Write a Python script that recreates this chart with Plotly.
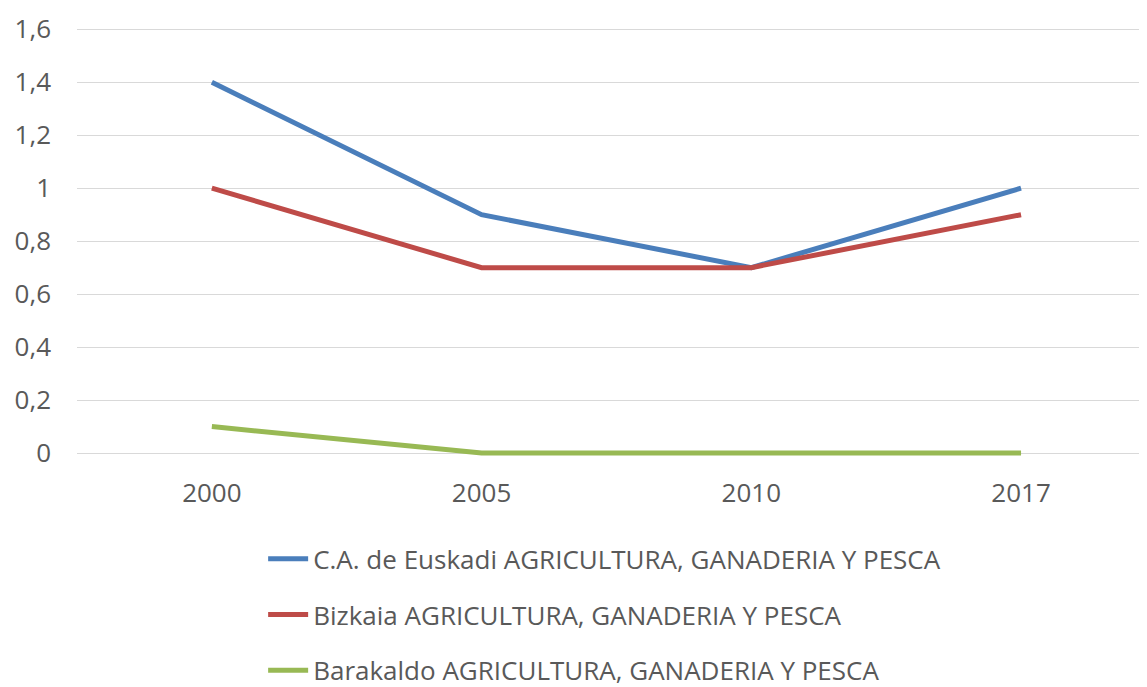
import plotly.graph_objects as go

years = ["2000", "2005", "2010", "2017"]
euskadi = [1.4, 0.9, 0.7, 1.0]
bizkaia = [1.0, 0.7, 0.7, 0.9]
barakaldo = [0.1, 0.0, 0.0, 0.0]
names = [
    "C.A. de Euskadi AGRICULTURA, GANADERIA Y PESCA",
    "Bizkaia AGRICULTURA, GANADERIA Y PESCA",
    "Barakaldo AGRICULTURA, GANADERIA Y PESCA",
]
colors = ["#4a7ebb", "#be4b48", "#98b954"]
y_ticks = [0, 0.2, 0.4, 0.6, 0.8, 1.0, 1.2, 1.4, 1.6]

fig = go.Figure()
for i, (vals, nm, col) in enumerate(zip([euskadi, bizkaia, barakaldo], names, colors)):
    fig.add_trace(go.Scatter(
        x=years, y=vals, name=nm, mode="lines",
        line=dict(color=col, width=5), legendgroup=f"g{i}",
    ))

fig.update_layout(
    width=1139, height=679,
    margin=dict(l=69, r=0, t=16, b=226, autoexpand=False),
    paper_bgcolor="white", plot_bgcolor="white",
    separators=",.",
    font=dict(family="'Open Sans', sans-serif", size=24, color="#595959"),
    showlegend=True,
    legend=dict(
        xref="container", yref="container",
        x=0.224, y=0.2235, xanchor="left", yanchor="top",
        orientation="v", tracegroupgap=19,
        font=dict(size=26, color="#595959"),
        itemwidth=40,
    ),
)
fig.update_xaxes(
    type="category", range=[-0.5, 3.467], automargin=False,
    showgrid=False, showline=False, zeroline=False,
    ticks="", ticklabelstandoff=14,
    tickfont=dict(size=26, color="#595959"),
)
fig.update_yaxes(
    range=[-0.03, 1.62], tickvals=y_ticks, automargin=False,
    showgrid=True, gridcolor="#d9d9d9", gridwidth=1.3,
    zeroline=False, showline=False,
    ticks="", ticklabelstandoff=25,
    tickfont=dict(size=26, color="#595959"),
)

fig.write_html("out.html")
